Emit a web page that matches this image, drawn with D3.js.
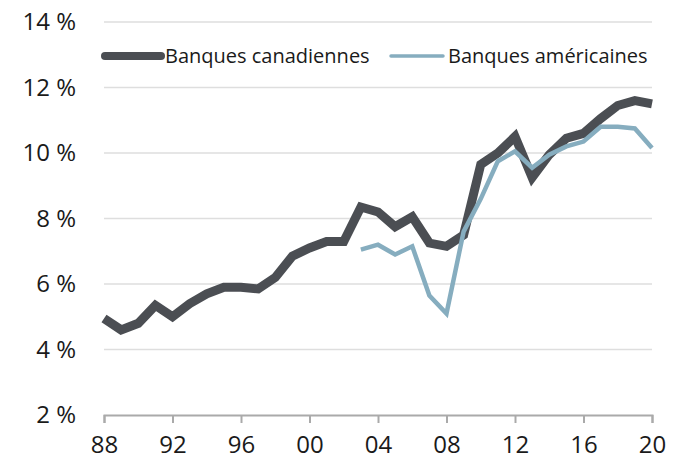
<!DOCTYPE html>
<html>
<head>
<meta charset="utf-8">
<script src="https://cdn.jsdelivr.net/npm/d3@7"></script>
<style>
  body { margin: 0; background: #fff; }
  text { font-family: "Open Sans", "Noto Sans", sans-serif; fill: #1a1a1a; }
</style>
</head>
<body>
<svg id="chart" width="683" height="460"></svg>
<script>
// Ratio (%) by year
const years = d3.range(1988, 2021);
const canadianBanks = [4.95, 4.6, 4.8, 5.35, 5.0, 5.4, 5.7, 5.9, 5.9, 5.85, 6.2, 6.85, 7.1, 7.3, 7.3,
  8.35, 8.2, 7.75, 8.05, 7.25, 7.15, 7.5, 9.65, 10.0, 10.5, 9.25, 9.95, 10.45, 10.6, 11.05, 11.45, 11.6, 11.5];
const usYears = d3.range(2003, 2021);
const usBanks = [7.05, 7.2, 6.9, 7.15, 5.65, 5.1, 7.6, 8.6, 9.75, 10.05, 9.55, 9.95, 10.2, 10.35, 10.8, 10.8, 10.75, 10.15];
const yTicks = [2, 4, 6, 8, 10, 12, 14];
const xTicks = [1988, 1992, 1996, 2000, 2004, 2008, 2012, 2016, 2020];

const series = [
  { label: "Banques canadiennes", color: "#4b4e53", width: 9, x: years, y: canadianBanks },
  { label: "Banques américaines", color: "#86adbf", width: 4.5, x: usYears, y: usBanks },
];

const svg = d3.select("#chart");
const x = d3.scaleLinear().domain([1988, 2020]).range([104, 652]);
const y = d3.scaleLinear().domain([2, 14]).range([415, 22]);

// gridlines
svg.append("g")
  .selectAll("line")
  .data(yTicks.filter((d) => d > 2))
  .enter()
  .append("line")
  .attr("x1", x(1988))
  .attr("x2", x(2020))
  .attr("y1", (d) => y(d))
  .attr("y2", (d) => y(d))
  .attr("stroke", "#dedede")
  .attr("stroke-width", 1.5);

// y labels
svg.append("g")
  .selectAll("text")
  .data(yTicks)
  .enter()
  .append("text")
  .attr("x", 76)
  .attr("y", (d) => y(d))
  .attr("dy", "0.35em")
  .attr("text-anchor", "end")
  .attr("font-size", 24)
  .text((d) => `${d} %`);

// x axis
const xAxis = d3.axisBottom(x)
  .tickValues(xTicks)
  .tickSize(8)
  .tickPadding(13)
  .tickFormat((d) => String(d % 100).padStart(2, "0"));

const gx = svg.append("g")
  .attr("transform", `translate(0, ${y(2)})`)
  .call(xAxis);
gx.select(".domain").attr("stroke", "#aaa").attr("stroke-width", 2);
gx.selectAll(".tick line").attr("stroke", "#aaa").attr("stroke-width", 2);
gx.selectAll(".tick text")
  .attr("font-size", 24)
  .attr("font-family", "\"Open Sans\", sans-serif")
  .attr("fill", "#1a1a1a");

// lines
const line = d3.line()
  .x((d) => x(d[0]))
  .y((d) => y(d[1]))
  .curve(d3.curveLinear);

series.forEach((s) => {
  svg.append("path")
    .datum(d3.zip(s.x, s.y))
    .attr("fill", "none")
    .attr("stroke", s.color)
    .attr("stroke-width", s.width)
    .attr("stroke-linejoin", "miter")
    .attr("d", line);
});

// legend
const legendPos = [{ x1: 105, x2: 161, tx: 165 }, { x1: 391, x2: 443, tx: 448 }];
const legend = svg.append("g")
  .selectAll(".legend-entry")
  .data(series)
  .enter()
  .append("g")
  .attr("class", "legend-entry");

legend.append("line")
  .attr("x1", (d, i) => legendPos[i].x1)
  .attr("x2", (d, i) => legendPos[i].x2)
  .attr("y1", 56)
  .attr("y2", 56)
  .attr("stroke", (d) => d.color)
  .attr("stroke-width", (d) => d.width - 1)
  .attr("stroke-linecap", "round");

legend.append("text")
  .attr("x", (d, i) => legendPos[i].tx)
  .attr("y", 56)
  .attr("dy", "0.35em")
  .attr("font-size", 20)
  .text((d) => d.label);
</script>
</body>
</html>
